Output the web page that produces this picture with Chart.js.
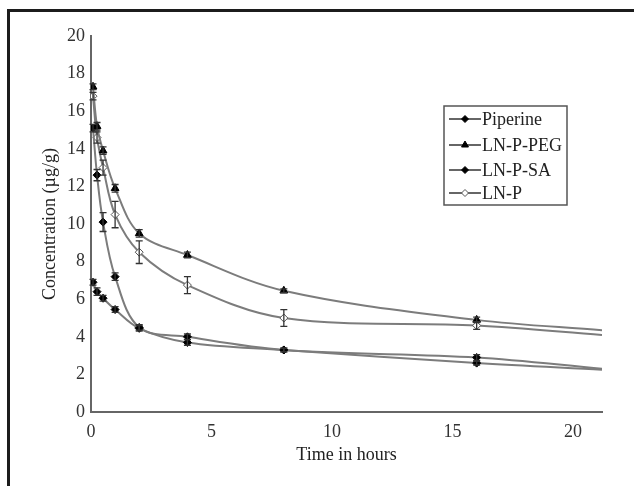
<!DOCTYPE html>
<html>
<head>
<meta charset="utf-8">
<script src="https://cdn.jsdelivr.net/npm/chart.js@4/dist/chart.umd.min.js"></script>
<style>
  html, body { margin: 0; padding: 0; background: #fff; }
  #wrap { position: relative; width: 634px; height: 486px; overflow: hidden; }
  #frame { position: absolute; left: 7px; top: 9px; width: 700px; height: 600px; border: 3px solid #1c1c1c; box-sizing: border-box; }
  canvas { position: absolute; left: 0; top: 0; }
</style>
</head>
<body>
<div id="wrap">
  <div id="frame"></div>
  <canvas id="c" width="634" height="486"></canvas>
</div>
<script>
// ---- data ----
const timeHours   = [0.083, 0.25, 0.5, 1, 2, 4, 8, 16, 21.2];
const piperine    = [6.9, 6.4, 6.05, 5.45, 4.45, 3.7, 3.3, 2.6, 2.25];
const lnpPeg      = [17.3, 15.2, 13.9, 11.9, 9.5, 8.35, 6.45, 4.9, 4.35];
const lnpSa       = [15.1, 12.6, 10.1, 7.2, 4.5, 4.0, 3.3, 2.9, 2.3];
const lnp         = [16.8, 14.6, 13.0, 10.5, 8.5, 6.75, 5.0, 4.6, 4.1];
const piperineErr = [0.15, 0.2, 0.15, 0.15, 0.15, 0.15, 0.1, 0.1, 0];
const lnpPegErr   = [0.15, 0.2, 0.2, 0.2, 0.2, 0.15, 0.1, 0.15, 0];
const lnpSaErr    = [0.2, 0.3, 0.5, 0.2, 0.15, 0.15, 0.1, 0.15, 0];
const lnpErr      = [0.2, 0.3, 0.4, 0.7, 0.6, 0.45, 0.45, 0.2, 0];
const seriesNames = ['Piperine', 'LN-P-PEG', 'LN-P-SA', 'LN-P'];
const yTicks      = [0, 2, 4, 6, 8, 10, 12, 14, 16, 18, 20];
const xTicks      = [0, 5, 10, 15, 20];

const FONT = 'Liberation Serif';
const LINE = '#7c7c7c';
const lastIdx = timeHours.length - 1;

function mk(name, vals, errs, style, fill, radius) {
  return {
    label: name,
    data: timeHours.map((t, i) => ({ x: t, y: vals[i] })),
    errors: errs,
    borderColor: LINE,
    borderWidth: 2,
    tension: 0.35,
    pointStyle: style,
    pointBackgroundColor: fill,
    pointBorderColor: fill === '#fff' ? '#555' : '#000',
    pointBorderWidth: 1,
    pointRadius: ctx => ctx.dataIndex === lastIdx ? 0 : radius,
    legendRadius: radius,
    fill: false
  };
}

const errorBars = {
  id: 'errorBars',
  afterDatasetsDraw(chart) {
    const { ctx, scales: { x, y } } = chart;
    ctx.save();
    ctx.strokeStyle = '#333';
    ctx.lineWidth = 1.3;
    chart.data.datasets.forEach(ds => {
      ds.data.forEach((p, i) => {
        const e = ds.errors[i];
        if (!e || i === lastIdx) return;
        const px = x.getPixelForValue(p.x);
        const y1 = y.getPixelForValue(p.y + e), y2 = y.getPixelForValue(p.y - e);
        ctx.beginPath();
        ctx.moveTo(px, y1); ctx.lineTo(px, y2);
        ctx.moveTo(px - 3.5, y1); ctx.lineTo(px + 3.5, y1);
        ctx.moveTo(px - 3.5, y2); ctx.lineTo(px + 3.5, y2);
        ctx.stroke();
      });
    });
    ctx.restore();
  }
};

const boxLegend = {
  id: 'boxLegend',
  afterDraw(chart) {
    const ctx = chart.ctx;
    const left = 444, top = 106, w = 123, h = 99;
    ctx.save();
    ctx.strokeStyle = '#555';
    ctx.lineWidth = 1.5;
    ctx.strokeRect(left, top, w, h);
    const rows = [119, 145, 170, 193];
    ctx.font = '18px "' + FONT + '"';
    ctx.textBaseline = 'middle';
    ctx.textAlign = 'left';
    chart.data.datasets.forEach((ds, i) => {
      const yy = rows[i];
      ctx.strokeStyle = '#333';
      ctx.lineWidth = 1.5;
      ctx.beginPath(); ctx.moveTo(449, yy); ctx.lineTo(481, yy); ctx.stroke();
      ctx.fillStyle = ds.pointBackgroundColor;
      ctx.strokeStyle = ds.pointBorderColor;
      ctx.lineWidth = 1;
      Chart.helpers.drawPoint(ctx, { pointStyle: ds.pointStyle, radius: ds.legendRadius - 0.5, rotation: 0, borderWidth: 1 }, 465, yy);
      ctx.fillStyle = '#222';
      ctx.fillText(ds.label, 482, yy + 1);
    });
    ctx.restore();
  }
};

new Chart(document.getElementById('c'), {
  type: 'line',
  data: {
    datasets: [
      mk(seriesNames[0], piperine, piperineErr, 'rectRot', '#000', 4),
      mk(seriesNames[1], lnpPeg, lnpPegErr, 'triangle', '#000', 4.5),
      mk(seriesNames[2], lnpSa, lnpSaErr, 'rectRot', '#000', 4),
      mk(seriesNames[3], lnp, lnpErr, 'rectRot', '#fff', 4)
    ]
  },
  options: {
    responsive: false,
    animation: false,
    layout: { padding: { left: 39, top: 36, right: 32, bottom: 20 } },
    plugins: { legend: { display: false }, tooltip: { enabled: false } },
    scales: {
      x: {
        type: 'linear',
        min: 0, max: 21.2,
        afterBuildTicks: s => { s.ticks = xTicks.map(v => ({ value: v })); },
        afterFit: s => { s.height = 54; },
        grid: { display: false, drawTicks: true, tickLength: 5, tickColor: '#666' },
        border: { display: true, color: '#666', width: 2 },
        ticks: { color: '#333', font: { family: FONT, size: 18 }, padding: 4, maxRotation: 0 },
        title: { display: true, text: 'Time in hours', color: '#222', font: { family: FONT, size: 18 }, padding: 0 }
      },
      y: {
        min: 0, max: 20,
        afterBuildTicks: s => { s.ticks = yTicks.map(v => ({ value: v })); },
        afterFit: s => { s.width = 52; },
        grid: { display: false, drawTicks: true, tickLength: 5, tickColor: '#666' },
        border: { display: true, color: '#666', width: 2 },
        ticks: { color: '#333', font: { family: FONT, size: 18 }, padding: 1 },
        title: { display: true, text: 'Concentration (µg/g)', color: '#222', font: { family: FONT, size: 18 }, padding: 0 }
      }
    }
  },
  plugins: [errorBars, boxLegend]
});
</script>
</body>
</html>
